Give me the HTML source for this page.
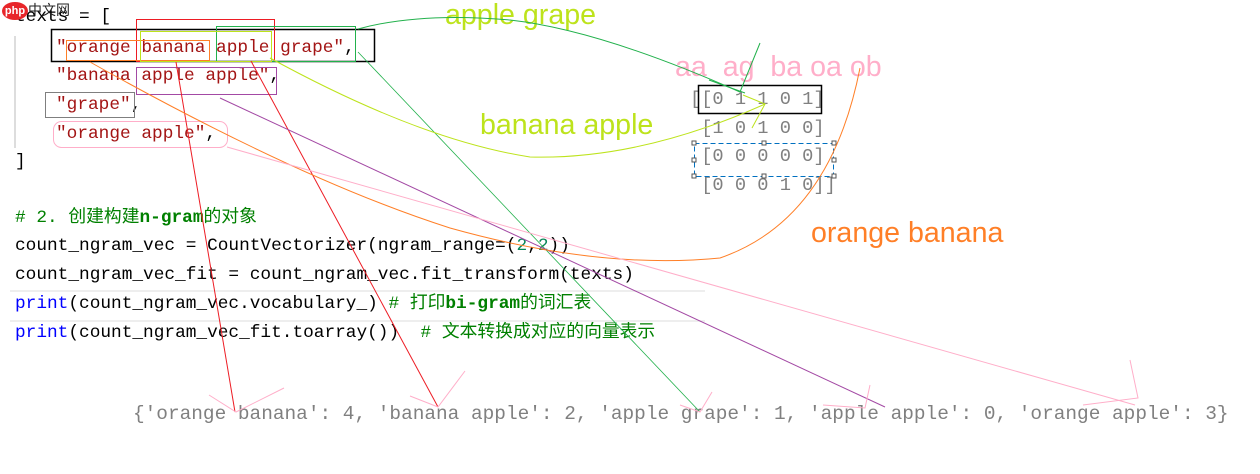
<!DOCTYPE html>
<html><head><meta charset="utf-8"><style>
body{margin:0;width:1260px;height:474px;background:#fff;position:relative;overflow:hidden}
.c{position:absolute;font-family:"Liberation Mono","Noto Sans CJK SC",monospace;font-size:17.8px;white-space:pre;line-height:20px;color:#000}
.s{color:#a31515}.g{color:#008000}.b{color:#0000ff}.n{color:#098658}
.m{position:absolute;font-family:"Liberation Mono",monospace;font-size:18.7px;color:#808080;white-space:pre;line-height:20px}
.l{position:absolute;font-family:"Liberation Sans","Noto Sans CJK SC",sans-serif;font-size:28.6px;white-space:pre;line-height:30px}
</style></head><body>
<div class="c" style="left:15px;top:7px">texts = [</div>
<div class="c" style="left:56px;top:38px"><span class="s">"orange banana apple grape"</span>,</div>
<div class="c" style="left:56px;top:66px"><span class="s">"banana apple apple"</span>,</div>
<div class="c" style="left:56px;top:95px"><span class="s">"grape"</span>,</div>
<div class="c" style="left:56px;top:124px"><span class="s">"orange apple"</span>,</div>
<div class="c" style="left:15px;top:152px">]</div>
<div style="position:absolute;left:14px;top:36px;width:2px;height:112px;background:#ddd"></div>
<div class="c g" style="left:15px;top:208px"># 2. 创建构建<b>n-gram</b>的对象</div>
<div class="c" style="left:15px;top:236px">count_ngram_vec = CountVectorizer(ngram_range=(<span class="n">2</span>,<span class="n">2</span>))</div>
<div class="c" style="left:15px;top:265px">count_ngram_vec_fit = count_ngram_vec.fit_transform(texts)</div>
<div style="position:absolute;left:10px;top:290px;width:695px;height:28px;border-top:2px solid #eee;border-bottom:2px solid #eee"></div>
<div class="c" style="left:15px;top:294px"><span class="b">print</span>(count_ngram_vec.vocabulary_) <span class="g"># 打印<b>bi-gram</b>的词汇表</span></div>
<div class="c" style="left:15px;top:323px"><span class="b">print</span>(count_ngram_vec_fit.toarray())  <span class="g"># 文本转换成对应的向量表示</span></div>
<div class="m" style="left:690px;top:89px">[[0 1 1 0 1]</div>
<div class="m" style="left:690px;top:118px"> [1 0 1 0 0]</div>
<div class="m" style="left:690px;top:146px"> [0 0 0 0 0]</div>
<div class="m" style="left:690px;top:175px"> [0 0 0 1 0]]</div>
<div class="m" style="left:133px;top:404px;font-size:19.43px">{'orange banana': 4, 'banana apple': 2, 'apple grape': 1, 'apple apple': 0, 'orange apple': 3}</div>
<div class="l" style="left:445px;top:0px;color:#bde31c">apple grape</div>
<div class="l" style="left:675px;top:52px;color:#ffaec9">aa  ag  ba oa ob</div>
<div class="l" style="left:480px;top:110px;color:#bde31c">banana apple</div>
<div class="l" style="left:811px;top:218px;color:#ff7f27">orange banana</div>
<div style="position:absolute;left:2px;top:2px;width:26px;height:18px;border-radius:50%;background:#e8262a;color:#fff;font:bold 11px 'Liberation Sans',sans-serif;text-align:center;line-height:18px">php</div>
<div style="position:absolute;left:28px;top:2px;font:14px 'Noto Sans CJK SC',sans-serif;color:#222;line-height:16px">中文网</div>
<svg width="1260" height="474" style="position:absolute;left:0;top:0" fill="none">
<rect x="51.5" y="29.5" width="323" height="32" stroke="#000" stroke-width="1.5"/>
<rect x="136.5" y="19.5" width="138" height="42" stroke="#ed1c24"/>
<rect x="216.5" y="26.5" width="139" height="35" stroke="#22b14c"/>
<rect x="66.5" y="40.5" width="143" height="20" stroke="#ff7f27"/>
<rect x="140.5" y="31.5" width="131" height="30" stroke="#bde31c"/>
<rect x="136.5" y="67.5" width="140" height="27" stroke="#a349a4"/>
<rect x="45.5" y="92.5" width="89" height="25" stroke="#7f7f7f"/>
<rect x="53.5" y="121.5" width="174" height="26" rx="8" stroke="#ffaec9"/>
<rect x="698.5" y="85.5" width="123" height="28" stroke="#000" stroke-width="1.5"/>
<rect x="694.5" y="143.5" width="139" height="33" stroke="#0070c0" stroke-dasharray="5,3"/>
<g stroke="#555" fill="#fff"><rect x="692" y="141" width="4" height="4"/><rect x="762" y="141" width="4" height="4"/><rect x="832" y="141" width="4" height="4"/><rect x="692" y="158" width="4" height="4"/><rect x="832" y="158" width="4" height="4"/><rect x="692" y="174" width="4" height="4"/><rect x="762" y="174" width="4" height="4"/><rect x="832" y="174" width="4" height="4"/></g>
<path d="M176,62 L235,412" stroke="#ed1c24"/>
<path d="M251,61 L438,407" stroke="#ed1c24"/>
<path d="M358,52 L700,412" stroke="#22b14c" stroke-width="0.8"/>
<path d="M358,29 Q420,12 510,20 Q600,30 740,92" stroke="#22b14c"/>
<path d="M709,80 L745,93 M760,43 L740,92" stroke="#22b14c"/>
<path d="M270,58 Q420,140 530,157 Q640,160 765,104" stroke="#bde31c"/>
<path d="M743,95 L765,104 L752,128" stroke="#bde31c"/>
<path d="M220,98 L885,407" stroke="#a349a4"/>
<path d="M90,62 Q300,180 450,228 Q600,270 720,258 Q830,220 860,68" stroke="#ff7f27"/>
<path d="M227,147 L1135,405" stroke="#ffaec9"/>
<g stroke="#ffaec9"><path d="M209,395 L236,412 L284,388"/><path d="M410,396 L438,407 L465,371"/><path d="M680,405 L700,412 L712,392"/><path d="M823,405 L865,408 L870,385"/><path d="M1083,405 L1138,398 L1130,360"/></g>
</svg>
</body></html>
